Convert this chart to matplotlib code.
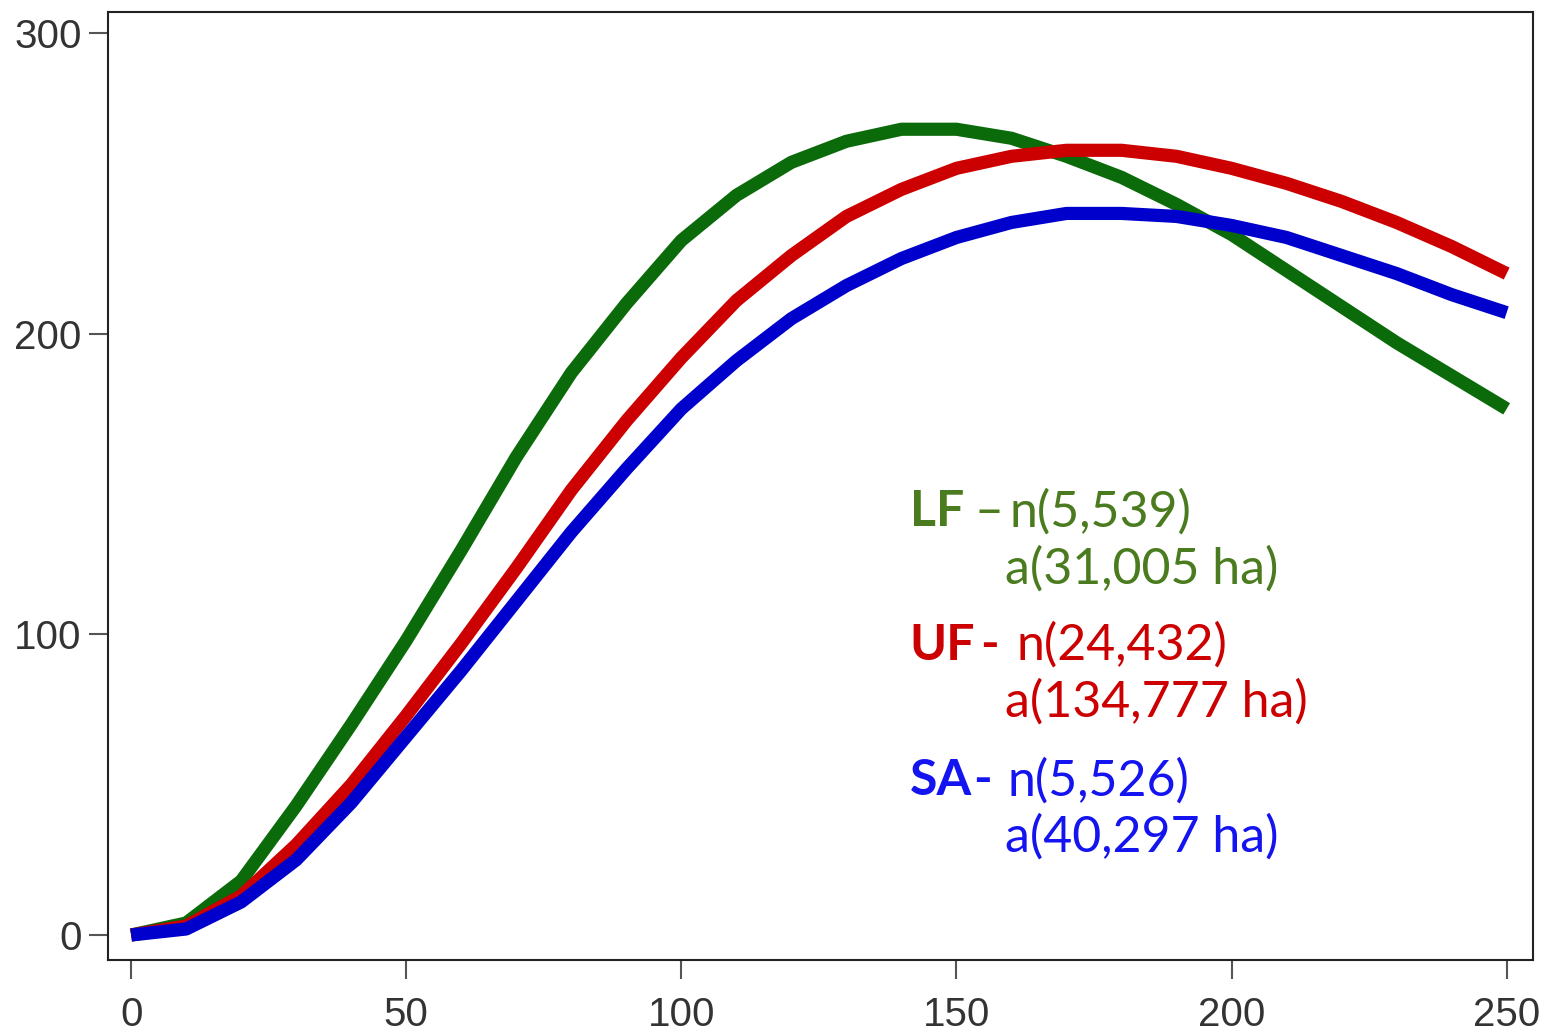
import matplotlib
matplotlib.use("Agg")
import matplotlib.pyplot as plt

x = [0, 10, 20, 30, 40, 50, 60, 70, 80, 90, 100, 110, 120, 130, 140, 150,
     160, 170, 180, 190, 200, 210, 220, 230, 240, 250]
lf = [0, 4, 18, 43, 70, 98, 128, 159, 187, 210, 231, 246, 257, 264, 268, 268,
      265, 259, 252, 243, 233, 221, 209, 197, 186, 175]
uf = [0, 3, 13, 30, 50, 73, 97, 122, 148, 171, 192, 211, 226, 239, 248, 255,
      259, 261, 261, 259, 255, 250, 244, 237, 229, 220]
sa = [0, 2, 11, 25, 44, 66, 88, 111, 134, 155, 175, 191, 205, 216, 225, 232,
      237, 240, 240, 239, 236, 232, 226, 220, 213, 207]

xticks = [0, 50, 100, 150, 200, 250]
yticks = [0, 100, 200, 300]

fig = plt.figure(figsize=(15.48, 10.34), dpi=100)
ax = fig.add_axes([0.0698, 0.0716, 0.9202, 0.9168])

ax.plot(x, lf, color="#0b6b0b", lw=9.5, solid_capstyle="butt",
        solid_joinstyle="round", zorder=3)
ax.plot(x, uf, color="#cc0000", lw=9.5, solid_capstyle="butt",
        solid_joinstyle="round", zorder=4)
ax.plot(x, sa, color="#0000cc", lw=9.5, solid_capstyle="butt",
        solid_joinstyle="round", zorder=5)

ax.set_xlim(-4.2, 254.7)
ax.set_ylim(-8.3, 307)
ax.set_xticks(xticks)
ax.set_yticks(yticks)
ax.tick_params(axis="both", direction="out", length=14, width=1.5,
               color="#555555", labelsize=29, labelcolor="#333333")
ax.tick_params(axis="y", pad=5)
ax.tick_params(axis="x", pad=12)
for lab in ax.get_xticklabels() + ax.get_yticklabels():
    lab.set_fontfamily("Liberation Sans")
for s in ax.spines.values():
    s.set_linewidth(1.5)
    s.set_color("#222222")

fs = 36
fam = "Lato"
green_t = "#4a7c1f"
red_t = "#cc0000"
blue_t = "#1414f0"

def put(xd, yd, s, c, bold=False):
    ax.text(xd, yd, s, color=c, fontsize=fs, family=fam,
            fontweight="bold" if bold else "normal", ha="left", va="baseline")

put(141.5, 136, "LF", green_t, True)
put(153.2, 136, "–", green_t)
put(159.7, 136, "n(5,539)", green_t)
put(158.8, 117, "a(31,005 ha)", green_t)

put(141.5, 91.5, "UF", red_t, True)
put(154.3, 91.5, "-", red_t, True)
put(161.0, 91.5, "n(24,432)", red_t)
put(158.8, 72.5, "a(134,777 ha)", red_t)

put(141.5, 46.5, "SA", blue_t, True)
put(153.0, 46.5, "-", blue_t, True)
put(159.3, 46.5, "n(5,526)", blue_t)
put(158.8, 27.6, "a(40,297 ha)", blue_t)

fig.savefig("out.png", dpi=100)
